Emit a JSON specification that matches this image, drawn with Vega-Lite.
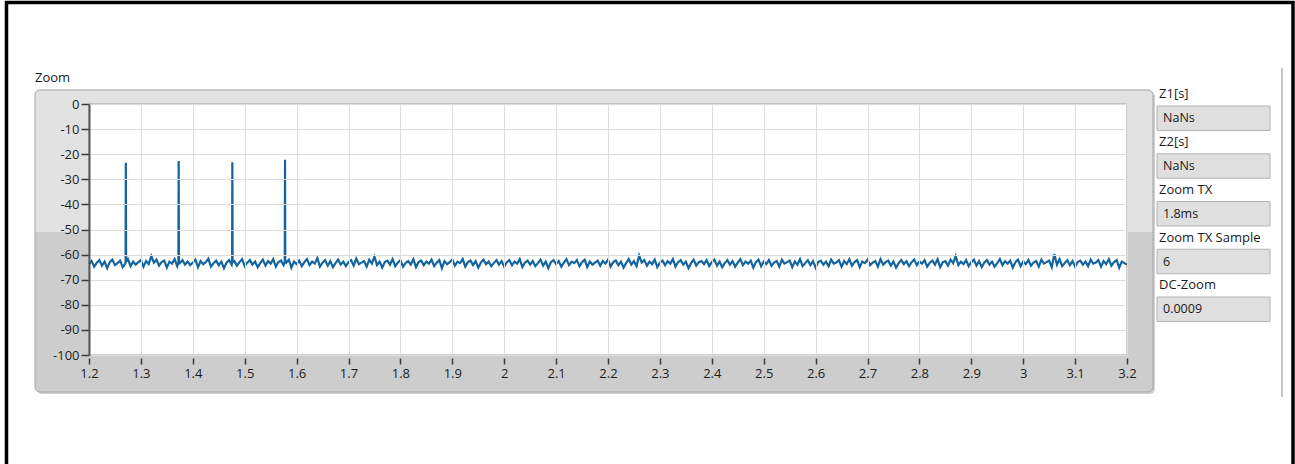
{
"$schema":"https://vega.github.io/schema/vega-lite/v6.json",
"width":1038,"height":251,
"autosize":{"type":"none"},
"padding":{"left":89,"top":104,"right":168,"bottom":109},
"background":"#ffffff",
"config":{"view":{"stroke":null},"font":"Open Sans"},
"resolve":{"scale":{"y":"independent"}},
"layer":[
{"layer":[
{"data":{"values":[{}]},"mark":{"type":"rect","fill":"#bdbdbd","opacity":0.7,"cornerRadius":5},
"encoding":{"x":{"datum":1.0998},"x2":{"datum":3.2540},"y":{"datum":4.78},"y2":{"datum":-115.54}}},
{"data":{"values":[{}]},"mark":{"type":"rect","fill":"#cdcdcd","cornerRadius":5},
"encoding":{"x":{"datum":1.096},"x2":{"datum":3.2501},"y":{"datum":5.578},"y2":{"datum":-114.74}}},
{"data":{"values":[{}]},"mark":{"type":"rect","fill":"#e2e2e2","cornerRadiusTopLeft":5,"cornerRadiusTopRight":5},
"encoding":{"x":{"datum":1.096},"x2":{"datum":3.2501},"y":{"datum":5.578},"y2":{"datum":-51.0}}},
{"data":{"values":[{}]},"mark":{"type":"rect","filled":false,"stroke":"#a4a4a4","strokeWidth":1,"cornerRadius":5},
"encoding":{"x":{"datum":1.096},"x2":{"datum":3.2501},"y":{"datum":5.578},"y2":{"datum":-114.74}}},
{"data":{"values":[{}]},"mark":{"type":"rect","fill":"#ffffff","stroke":"#a0a0a0","strokeWidth":1},
"encoding":{"x":{"datum":1.2},"x2":{"datum":3.2},"y":{"datum":0},"y2":{"datum":-100}}},
{"data":{"values":[
{"t":1.2,"v":-63.8},{"t":1.205,"v":-62.6},{"t":1.21,"v":-64.8},{"t":1.215,"v":-63.2},{"t":1.22,"v":-62.2},{"t":1.225,"v":-64.4},{"t":1.23,"v":-62.8},{"t":1.235,"v":-65.4},{"t":1.24,"v":-63.0},{"t":1.245,"v":-62.0},{"t":1.25,"v":-64.2},{"t":1.255,"v":-63.4},{"t":1.26,"v":-62.4},{"t":1.265,"v":-65.0},{"t":1.27,"v":-63.6},{"t":1.2705,"v":-63.0},{"t":1.271,"v":-23.4},{"t":1.2715,"v":-62.8},{"t":1.275,"v":-61.8},{"t":1.28,"v":-64.6},{"t":1.285,"v":-62.8},{"t":1.29,"v":-64.0},{"t":1.295,"v":-63.0},
{"t":1.3,"v":-62.2},{"t":1.305,"v":-64.8},{"t":1.31,"v":-62.6},{"t":1.315,"v":-63.8},{"t":1.32,"v":-60.6},{"t":1.325,"v":-63.2},{"t":1.33,"v":-62.0},{"t":1.335,"v":-64.4},{"t":1.34,"v":-63.0},{"t":1.345,"v":-62.4},{"t":1.35,"v":-65.2},{"t":1.355,"v":-62.8},{"t":1.36,"v":-63.6},{"t":1.365,"v":-61.8},{"t":1.37,"v":-64.6},{"t":1.3723,"v":-63.2},{"t":1.3728,"v":-22.7},{"t":1.3733,"v":-62.9},{"t":1.375,"v":-63.4},{"t":1.38,"v":-62.2},{"t":1.385,"v":-64.0},{"t":1.39,"v":-62.8},{"t":1.395,"v":-64.2},
{"t":1.4,"v":-63.2},{"t":1.405,"v":-62.0},{"t":1.41,"v":-65.0},{"t":1.415,"v":-62.6},{"t":1.42,"v":-63.8},{"t":1.425,"v":-63.0},{"t":1.43,"v":-61.6},{"t":1.435,"v":-64.8},{"t":1.44,"v":-63.4},{"t":1.445,"v":-62.4},{"t":1.45,"v":-64.2},{"t":1.455,"v":-62.8},{"t":1.46,"v":-65.4},{"t":1.465,"v":-63.2},{"t":1.47,"v":-62.2},{"t":1.475,"v":-64.0},{"t":1.4757,"v":-63.1},{"t":1.4762,"v":-23.2},{"t":1.4767,"v":-63.0},{"t":1.48,"v":-62.6},{"t":1.485,"v":-64.4},{"t":1.49,"v":-63.0},{"t":1.495,"v":-61.8},
{"t":1.5,"v":-64.6},{"t":1.505,"v":-63.2},{"t":1.51,"v":-62.2},{"t":1.515,"v":-64.0},{"t":1.52,"v":-62.8},{"t":1.525,"v":-65.0},{"t":1.53,"v":-63.4},{"t":1.535,"v":-62.0},{"t":1.54,"v":-64.4},{"t":1.545,"v":-62.6},{"t":1.55,"v":-63.6},{"t":1.555,"v":-61.8},{"t":1.56,"v":-64.8},{"t":1.565,"v":-63.0},{"t":1.57,"v":-62.4},{"t":1.575,"v":-64.2},{"t":1.5772,"v":-63.0},{"t":1.5777,"v":-22.2},{"t":1.5782,"v":-62.7},{"t":1.58,"v":-63.2},{"t":1.585,"v":-62.0},{"t":1.59,"v":-65.2},{"t":1.595,"v":-62.8},
{"t":1.6,"v":-63.8},{"t":1.605,"v":-62.4},{"t":1.61,"v":-64.6},{"t":1.615,"v":-63.0},{"t":1.62,"v":-61.8},{"t":1.625,"v":-64.2},{"t":1.63,"v":-62.8},{"t":1.635,"v":-63.6},{"t":1.64,"v":-61.4},{"t":1.645,"v":-64.8},{"t":1.65,"v":-63.2},{"t":1.655,"v":-62.2},{"t":1.66,"v":-64.4},{"t":1.665,"v":-62.6},{"t":1.67,"v":-65.0},{"t":1.675,"v":-63.4},{"t":1.68,"v":-62.0},{"t":1.685,"v":-64.0},{"t":1.69,"v":-62.8},{"t":1.695,"v":-64.6},
{"t":1.7,"v":-63.0},{"t":1.705,"v":-62.2},{"t":1.71,"v":-64.4},{"t":1.715,"v":-61.6},{"t":1.72,"v":-63.8},{"t":1.725,"v":-63.2},{"t":1.73,"v":-62.6},{"t":1.735,"v":-64.8},{"t":1.74,"v":-62.0},{"t":1.745,"v":-63.6},{"t":1.75,"v":-60.8},{"t":1.755,"v":-64.2},{"t":1.76,"v":-62.8},{"t":1.765,"v":-65.2},{"t":1.77,"v":-63.0},{"t":1.775,"v":-62.4},{"t":1.78,"v":-64.0},{"t":1.785,"v":-61.8},{"t":1.79,"v":-64.6},{"t":1.795,"v":-63.2},
{"t":1.8,"v":-62.2},{"t":1.805,"v":-64.8},{"t":1.81,"v":-63.4},{"t":1.815,"v":-62.6},{"t":1.82,"v":-64.0},{"t":1.825,"v":-61.8},{"t":1.83,"v":-65.0},{"t":1.835,"v":-63.0},{"t":1.84,"v":-62.4},{"t":1.845,"v":-64.2},{"t":1.85,"v":-62.8},{"t":1.855,"v":-63.6},{"t":1.86,"v":-62.0},{"t":1.865,"v":-64.6},{"t":1.87,"v":-63.2},{"t":1.875,"v":-62.2},{"t":1.88,"v":-65.4},{"t":1.885,"v":-62.6},{"t":1.89,"v":-63.8},{"t":1.895,"v":-63.0},
{"t":1.9,"v":-62.0},{"t":1.905,"v":-64.4},{"t":1.91,"v":-62.8},{"t":1.915,"v":-63.4},{"t":1.92,"v":-61.8},{"t":1.925,"v":-64.8},{"t":1.93,"v":-63.0},{"t":1.935,"v":-62.4},{"t":1.94,"v":-64.2},{"t":1.945,"v":-62.6},{"t":1.95,"v":-65.2},{"t":1.955,"v":-63.2},{"t":1.96,"v":-62.0},{"t":1.965,"v":-63.8},{"t":1.97,"v":-62.8},{"t":1.975,"v":-64.6},{"t":1.98,"v":-63.4},{"t":1.985,"v":-62.2},{"t":1.99,"v":-64.0},{"t":1.995,"v":-62.6},
{"t":2.0,"v":-64.8},{"t":2.005,"v":-63.0},{"t":2.01,"v":-62.2},{"t":2.015,"v":-64.2},{"t":2.02,"v":-62.8},{"t":2.025,"v":-63.6},{"t":2.03,"v":-61.8},{"t":2.035,"v":-65.0},{"t":2.04,"v":-63.2},{"t":2.045,"v":-62.4},{"t":2.05,"v":-64.0},{"t":2.055,"v":-62.6},{"t":2.06,"v":-64.6},{"t":2.065,"v":-63.4},{"t":2.07,"v":-62.0},{"t":2.075,"v":-64.4},{"t":2.08,"v":-62.8},{"t":2.085,"v":-65.4},{"t":2.09,"v":-63.0},{"t":2.095,"v":-62.2},
{"t":2.1,"v":-63.8},{"t":2.105,"v":-62.6},{"t":2.11,"v":-64.8},{"t":2.115,"v":-63.2},{"t":2.12,"v":-61.8},{"t":2.125,"v":-64.2},{"t":2.13,"v":-62.8},{"t":2.135,"v":-63.4},{"t":2.14,"v":-62.2},{"t":2.145,"v":-64.6},{"t":2.15,"v":-63.0},{"t":2.155,"v":-62.0},{"t":2.16,"v":-65.0},{"t":2.165,"v":-62.8},{"t":2.17,"v":-64.0},{"t":2.175,"v":-63.2},{"t":2.18,"v":-62.4},{"t":2.185,"v":-64.4},{"t":2.19,"v":-62.6},{"t":2.195,"v":-63.6},
{"t":2.2,"v":-62.0},{"t":2.205,"v":-64.8},{"t":2.21,"v":-63.0},{"t":2.215,"v":-62.4},{"t":2.22,"v":-64.2},{"t":2.225,"v":-62.8},{"t":2.23,"v":-65.2},{"t":2.235,"v":-63.4},{"t":2.24,"v":-61.8},{"t":2.245,"v":-64.0},{"t":2.25,"v":-62.6},{"t":2.255,"v":-64.6},{"t":2.26,"v":-60.4},{"t":2.265,"v":-63.2},{"t":2.27,"v":-62.2},{"t":2.275,"v":-64.4},{"t":2.28,"v":-62.8},{"t":2.285,"v":-63.8},{"t":2.29,"v":-62.0},{"t":2.295,"v":-65.0},
{"t":2.3,"v":-63.2},{"t":2.305,"v":-62.4},{"t":2.31,"v":-64.2},{"t":2.315,"v":-62.6},{"t":2.32,"v":-63.6},{"t":2.325,"v":-61.8},{"t":2.33,"v":-64.8},{"t":2.335,"v":-63.0},{"t":2.34,"v":-62.2},{"t":2.345,"v":-64.0},{"t":2.35,"v":-62.8},{"t":2.355,"v":-65.4},{"t":2.36,"v":-63.4},{"t":2.365,"v":-62.0},{"t":2.37,"v":-64.4},{"t":2.375,"v":-63.0},{"t":2.38,"v":-62.6},{"t":2.385,"v":-63.8},{"t":2.39,"v":-62.2},{"t":2.395,"v":-64.6},
{"t":2.4,"v":-63.0},{"t":2.405,"v":-62.0},{"t":2.41,"v":-64.4},{"t":2.415,"v":-62.8},{"t":2.42,"v":-65.0},{"t":2.425,"v":-63.4},{"t":2.43,"v":-62.2},{"t":2.435,"v":-64.0},{"t":2.44,"v":-62.6},{"t":2.445,"v":-64.8},{"t":2.45,"v":-63.2},{"t":2.455,"v":-61.8},{"t":2.46,"v":-64.2},{"t":2.465,"v":-62.8},{"t":2.47,"v":-63.6},{"t":2.475,"v":-62.4},{"t":2.48,"v":-65.2},{"t":2.485,"v":-63.0},{"t":2.49,"v":-62.0},{"t":2.495,"v":-64.6},
{"t":2.5,"v":-62.8},{"t":2.505,"v":-63.8},{"t":2.51,"v":-62.2},{"t":2.515,"v":-64.4},{"t":2.52,"v":-63.2},{"t":2.525,"v":-62.6},{"t":2.53,"v":-64.8},{"t":2.535,"v":-62.0},{"t":2.54,"v":-63.6},{"t":2.545,"v":-63.0},{"t":2.55,"v":-62.4},{"t":2.555,"v":-65.0},{"t":2.56,"v":-62.8},{"t":2.565,"v":-64.0},{"t":2.57,"v":-61.8},{"t":2.575,"v":-64.6},{"t":2.58,"v":-63.4},{"t":2.585,"v":-62.2},{"t":2.59,"v":-64.2},{"t":2.595,"v":-62.6},
{"t":2.6,"v":-65.2},{"t":2.605,"v":-63.0},{"t":2.61,"v":-62.4},{"t":2.615,"v":-64.0},{"t":2.62,"v":-62.8},{"t":2.625,"v":-64.6},{"t":2.63,"v":-62.0},{"t":2.635,"v":-63.6},{"t":2.64,"v":-63.2},{"t":2.645,"v":-62.2},{"t":2.65,"v":-64.8},{"t":2.655,"v":-62.6},{"t":2.66,"v":-63.8},{"t":2.665,"v":-61.8},{"t":2.67,"v":-64.4},{"t":2.675,"v":-63.0},{"t":2.68,"v":-62.2},{"t":2.685,"v":-65.0},{"t":2.69,"v":-62.8},{"t":2.695,"v":-63.4},
{"t":2.7,"v":-62.0},{"t":2.705,"v":-64.2},{"t":2.71,"v":-63.2},{"t":2.715,"v":-62.6},{"t":2.72,"v":-64.8},{"t":2.725,"v":-61.8},{"t":2.73,"v":-64.0},{"t":2.735,"v":-63.0},{"t":2.74,"v":-62.4},{"t":2.745,"v":-64.4},{"t":2.75,"v":-62.8},{"t":2.755,"v":-65.2},{"t":2.76,"v":-63.4},{"t":2.765,"v":-62.2},{"t":2.77,"v":-63.8},{"t":2.775,"v":-62.6},{"t":2.78,"v":-64.6},{"t":2.785,"v":-63.0},{"t":2.79,"v":-62.0},{"t":2.795,"v":-64.2},
{"t":2.8,"v":-62.8},{"t":2.805,"v":-63.6},{"t":2.81,"v":-62.2},{"t":2.815,"v":-64.8},{"t":2.82,"v":-63.2},{"t":2.825,"v":-62.4},{"t":2.83,"v":-64.0},{"t":2.835,"v":-61.8},{"t":2.84,"v":-65.0},{"t":2.845,"v":-63.0},{"t":2.85,"v":-62.6},{"t":2.855,"v":-64.4},{"t":2.86,"v":-62.0},{"t":2.865,"v":-63.4},{"t":2.87,"v":-60.6},{"t":2.875,"v":-64.2},{"t":2.88,"v":-62.8},{"t":2.885,"v":-63.8},{"t":2.89,"v":-62.2},{"t":2.895,"v":-64.6},
{"t":2.9,"v":-63.0},{"t":2.905,"v":-62.0},{"t":2.91,"v":-64.4},{"t":2.915,"v":-62.6},{"t":2.92,"v":-65.0},{"t":2.925,"v":-63.2},{"t":2.93,"v":-62.2},{"t":2.935,"v":-64.0},{"t":2.94,"v":-62.8},{"t":2.945,"v":-64.8},{"t":2.95,"v":-63.4},{"t":2.955,"v":-61.8},{"t":2.96,"v":-64.2},{"t":2.965,"v":-62.6},{"t":2.97,"v":-63.6},{"t":2.975,"v":-62.4},{"t":2.98,"v":-65.2},{"t":2.985,"v":-63.0},{"t":2.99,"v":-62.0},{"t":2.995,"v":-64.6},
{"t":3.0,"v":-62.8},{"t":3.005,"v":-63.8},{"t":3.01,"v":-62.2},{"t":3.015,"v":-64.4},{"t":3.02,"v":-63.2},{"t":3.025,"v":-62.6},{"t":3.03,"v":-64.8},{"t":3.035,"v":-62.0},{"t":3.04,"v":-63.6},{"t":3.045,"v":-63.0},{"t":3.05,"v":-62.4},{"t":3.055,"v":-65.0},{"t":3.06,"v":-59.8},{"t":3.065,"v":-64.0},{"t":3.07,"v":-61.8},{"t":3.075,"v":-64.6},{"t":3.08,"v":-63.4},{"t":3.085,"v":-62.2},{"t":3.09,"v":-64.2},{"t":3.095,"v":-62.6},
{"t":3.1,"v":-64.8},{"t":3.105,"v":-63.0},{"t":3.11,"v":-62.4},{"t":3.115,"v":-64.0},{"t":3.12,"v":-62.8},{"t":3.125,"v":-64.6},{"t":3.13,"v":-62.0},{"t":3.135,"v":-63.6},{"t":3.14,"v":-63.2},{"t":3.145,"v":-62.2},{"t":3.15,"v":-64.8},{"t":3.155,"v":-62.6},{"t":3.16,"v":-63.8},{"t":3.165,"v":-61.8},{"t":3.17,"v":-64.4},{"t":3.175,"v":-63.0},{"t":3.18,"v":-62.2},{"t":3.185,"v":-65.2},{"t":3.19,"v":-62.8},{"t":3.195,"v":-63.4},
{"t":3.2,"v":-64.0}
]},
"mark":{"type":"line","color":"#13649f","strokeWidth":2.2},
"encoding":{
"x":{"field":"t","type":"quantitative","title":null,"scale":{"domain":[1.2,3.2],"nice":false,"zero":false},
"axis":{"title":null,"values":[1.2,1.3,1.4,1.5,1.6,1.7,1.8,1.9,2,2.1,2.2,2.3,2.4,2.5,2.6,2.7,2.8,2.9,3,3.1,3.2],"tickCount":21,"format":"~g","grid":true,"gridColor":"#dcdcdc","gridWidth":1,"domain":false,"ticks":true,"tickColor":"#3a3a3a","tickWidth":1.5,"tickSize":6,"offset":3,"labelFont":"Open Sans","labelFontSize":13,"labelColor":"#1e1e1e","labelPadding":3,"labelFlush":false,"labelOverlap":false,"zindex":1}},
"y":{"field":"v","type":"quantitative","title":null,"scale":{"domain":[-100,0],"nice":false,"zero":false},
"axis":{"title":null,"values":[-100,-90,-80,-70,-60,-50,-40,-30,-20,-10,0],"tickCount":11,"labelExpr":"datum.value == 0 ? '0' : '-' + abs(datum.value)","grid":true,"gridColor":"#dcdcdc","gridWidth":1,"domain":true,"domainColor":"#555555","domainWidth":2,"ticks":true,"tickColor":"#3a3a3a","tickWidth":1.5,"tickSize":8,"labelFont":"Open Sans","labelFontSize":13,"labelColor":"#1e1e1e","labelPadding":2,"labelFlush":false,"labelOverlap":false,"zindex":1}}
}},
{"data":{"values":[{"label":"Zoom"}]},"mark":{"type":"text","align":"left","baseline":"middle","fontSize":13,"color":"#1a1a1a","font":"Open Sans"},
"encoding":{"x":{"datum":1.096},"y":{"datum":10.2},"text":{"field":"label"}}},
{"data":{"values":[{}]},"mark":{"type":"rect","filled":false,"stroke":"#000000","strokeWidth":3.5},
"encoding":{"x":{"datum":1.04104},"x2":{"datum":3.51985},"y":{"datum":40.44},"y2":{"datum":-150}}},
{"data":{"values":[{}]},"mark":{"type":"rule","color":"#c6c6c6","strokeWidth":2},
"encoding":{"x":{"datum":3.4987},"y":{"datum":14.34},"y2":{"datum":-116.73}}}
]},
{"data":{"values":[
{"name":"Z1[s]","value":"NaNs"},
{"name":"Z2[s]","value":"NaNs"},
{"name":"Zoom TX","value":"1.8ms"},
{"name":"Zoom TX Sample","value":"6"},
{"name":"DC-Zoom","value":"0.0009"}
]},
"encoding":{"y":{"field":"name","type":"nominal","sort":null,"scale":{"type":"band","range":[2,217.5],"paddingInner":0.487,"paddingOuter":0},"axis":null}},
"layer":[
{"mark":{"type":"rect","fill":"#dfdfdf","stroke":"#b4b4b4","strokeWidth":1},"encoding":{"x":{"datum":3.2578},"x2":{"datum":3.4755}}},
{"mark":{"type":"text","align":"left","baseline":"middle","dy":-24,"fontSize":13,"color":"#1a1a1a","font":"Open Sans"},"encoding":{"x":{"datum":3.2617},"text":{"field":"name"}}},
{"mark":{"type":"text","align":"left","baseline":"middle","fontSize":12.5,"color":"#1a1a1a","font":"Open Sans"},"encoding":{"x":{"datum":3.2694},"text":{"field":"value"}}}
]}
]
}
